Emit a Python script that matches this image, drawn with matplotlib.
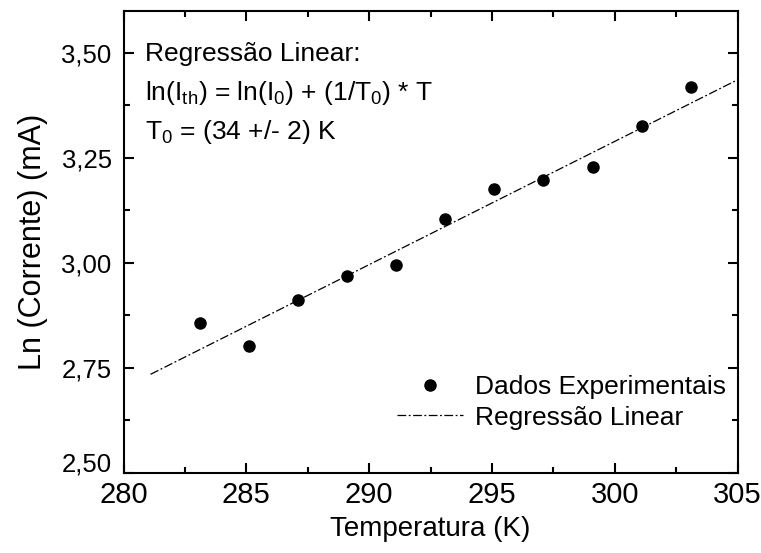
import matplotlib
matplotlib.use("Agg")
import matplotlib.pyplot as plt
from matplotlib.ticker import MultipleLocator, FuncFormatter

temperatura = [283.1, 285.1, 287.1, 289.1, 291.1, 293.1, 295.1, 297.1, 299.1, 301.1, 303.1]
ln_corrente = [2.857, 2.801, 2.912, 2.968, 2.994, 3.105, 3.175, 3.196, 3.227, 3.327, 3.420]
fit_x = [281.1, 305.0]
fit_y = [2.734, 3.436]

plt.rcParams['font.family'] = ['Liberation Sans', 'DejaVu Sans']
plt.rcParams['mathtext.fontset'] = 'custom'
plt.rcParams['mathtext.rm'] = 'Liberation Sans'

fig = plt.figure(figsize=(7.61, 5.53), dpi=100)
ax = fig.add_axes([123.5/761, (553-472.5)/553, 614/761, 461.5/553])

ax.plot(temperatura, ln_corrente, 'o', color='black', markersize=8,
        linestyle='none', label='Dados Experimentais')
ax.plot(fit_x, fit_y, color='black', linewidth=0.9,
        linestyle=(0, (7, 2, 1.5, 2)), label='Regressão Linear')

ax.set_xlim(280, 305)
ax.set_ylim(2.5, 3.6)
ax.xaxis.set_major_locator(MultipleLocator(5))
ax.xaxis.set_minor_locator(MultipleLocator(2.5))
ax.yaxis.set_major_locator(MultipleLocator(0.25))
ax.yaxis.set_minor_locator(MultipleLocator(0.125))


def yfmt(v, p):
    if abs(v - 2.5) < 1e-9:
        return ''
    return f"{v:.2f}".replace('.', ',')


ax.yaxis.set_major_formatter(FuncFormatter(yfmt))

ax.tick_params(which='both', direction='in', top=True, right=True, width=1.5)
ax.tick_params(which='major', length=7)
ax.tick_params(which='minor', length=4)
ax.tick_params(axis='x', labelsize=21, pad=6)
ax.tick_params(axis='y', labelsize=18.5, pad=8.5)
for s in ax.spines.values():
    s.set_linewidth(1.5)

# lowest y tick label sits slightly raised in the reference
ax.annotate('2,50', xy=(0, 2.5), xycoords=('axes fraction', 'data'),
            xytext=(-8.5, 6), textcoords='offset points', ha='right', va='center',
            fontsize=18.5)

ax.set_xlabel('Temperatura (K)', fontsize=20, labelpad=5)
ax.set_ylabel('Ln (Corrente) (mA)', fontsize=22, labelpad=10)

fs = 19
ax.text(0.035, 0.907, 'Regressão Linear:', transform=ax.transAxes, fontsize=fs, va='center')
ax.text(0.035, 0.823, r'ln(I$_{\mathrm{th}}$) = ln(I$_{\mathrm{0}}$) + (1/T$_{\mathrm{0}}$) * T',
        transform=ax.transAxes, fontsize=fs, va='center')
ax.text(0.035, 0.738, r'T$_{\mathrm{0}}$ = (34 +/- 2) K', transform=ax.transAxes,
        fontsize=fs, va='center')

leg = ax.legend(loc='lower right', bbox_to_anchor=(0.998, 0.07), frameon=False,
                fontsize=19, handlelength=2.5, handletextpad=0.45, labelspacing=0.25,
                borderaxespad=0)

fig.savefig('out.png', dpi=100)
